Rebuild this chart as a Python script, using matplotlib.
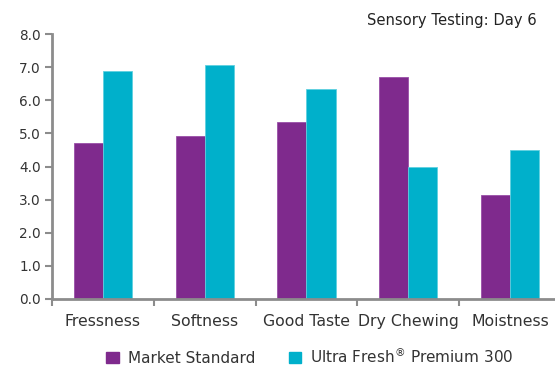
import numpy as np
import matplotlib
matplotlib.use("Agg")
import matplotlib.pyplot as plt
from matplotlib.patches import Patch

categories = ["Fressness", "Softness", "Good Taste", "Dry Chewing", "Moistness"]
market_standard = [4.72, 4.93, 5.34, 6.70, 3.14]
ultra_fresh = [6.89, 7.06, 6.34, 3.99, 4.49]
series_names = ["Market Standard", "Ultra Fresh$^{\u00ae}$ Premium 300"]

purple = "#7F2A8D"
cyan = "#00B0CB"
grey = "#8C8C8C"

fig = plt.figure(figsize=(5.55, 3.67), dpi=100)
# axes runs a bit past the right edge, like the original
ax = fig.add_axes([52/555, 68/367, 509/555, 265/367])

x = np.arange(len(categories))
w = 0.285
ax.bar(x - w/2, market_standard, w, color=purple, edgecolor="#9a4fa8", linewidth=0.6)
ax.bar(x + w/2, ultra_fresh, w, color=cyan, edgecolor="#5fd0e0", linewidth=0.6)

ax.set_xlim(-0.5, len(categories) - 0.5)
ax.set_ylim(0, 8)
ax.set_yticks(np.arange(0, 9, 1))
ax.set_yticklabels(["%.1f" % v for v in np.arange(0, 9, 1)], fontsize=9.8, color="#333333")
ax.set_xticks(x)
ax.set_xticklabels(categories, fontsize=11.3, color="#333333", va="baseline")
ax.set_xticks(np.arange(-0.5, len(categories), 1), minor=True)

for s in ["top", "right"]:
    ax.spines[s].set_visible(False)
for s in ["left", "bottom"]:
    ax.spines[s].set_color(grey)
    ax.spines[s].set_linewidth(2)

ax.tick_params(axis="y", length=5, width=1.5, color=grey, pad=3)
ax.tick_params(axis="x", which="major", length=0, pad=19.5)
ax.tick_params(axis="x", which="minor", length=5, width=1.5, color=grey)

fig.text(537/555, 1 - 20/367, "Sensory Testing: Day 6", ha="right", va="center",
         fontsize=10.6, color="#222222")

handles = [Patch(color=purple), Patch(color=cyan)]
fig.legend(handles, series_names, loc="center", bbox_to_anchor=(310/555, 1 - 356/367),
           ncol=2, frameon=False, fontsize=11, handlelength=0.8, handleheight=0.8,
           columnspacing=2.2, handletextpad=0.6, labelcolor="#333333")

fig.savefig("out.png", dpi=100)
